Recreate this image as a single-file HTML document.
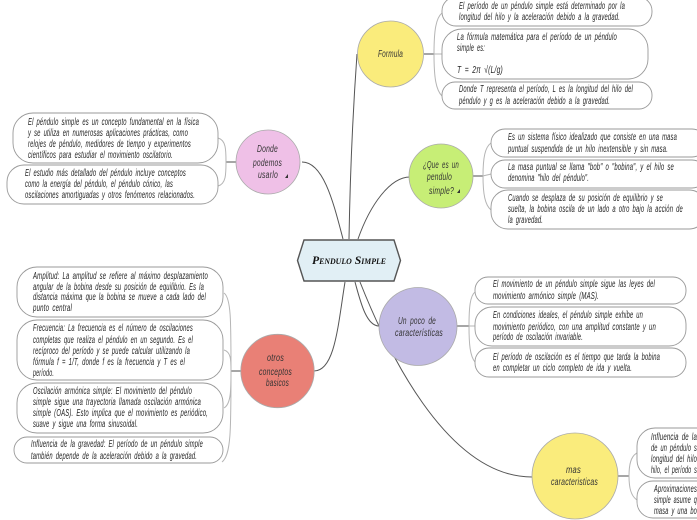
<!DOCTYPE html>
<html><head><meta charset="utf-8"><style>
html,body{margin:0;padding:0;background:#fff}
svg{display:block}
text{font-family:"Liberation Sans",sans-serif;font-style:italic;font-size:10px;fill:#222;word-spacing:2px;letter-spacing:.3px}
.c{font-size:10px;fill:#333}
.b{fill:#fff;stroke:#999;stroke-width:.9}
.l{fill:none;stroke:#555;stroke-width:1}
.g{fill:none;stroke:#b5b5b5;stroke-width:1}
.s{fill:none;stroke:#777;stroke-width:1.3}
.o{stroke:#aaa;stroke-width:.8}
</style></head><body>
<svg width="697" height="520" viewBox="0 0 697 520" xmlns="http://www.w3.org/2000/svg">
<!-- main connectors -->
<path class="l" d="M343 239C334 205 324 162 302 162"/>
<path class="l" d="M349 239C350 180 353 110 357 54"/>
<path class="l" d="M358 239C370 205 390 177 410 177"/>
<path class="l" d="M345 282C338 325 335 371 314 371"/>
<path class="l" d="M355 282C360 300 366 326 379 326"/>
<path class="l" d="M360 282C385 345 445 477 532 477"/>
<!-- brackets -->
<path class="s" d="M237 162H226"/>
<path class="g" d="M218 138C226 140 226 150 226 162C226 174 226 184 218 186"/>
<path class="s" d="M241 371H231"/>
<path class="g" d="M224 293C231 298 231 320 231 371C231 430 231 455 222 462M224 350C231 352 231 360 231 371C231 390 231 404 224 408"/>
<path class="s" d="M424 54H434"/>
<path class="g" d="M442 13C436 18 434 30 434 54C434 78 436 90 442 96M434 54H442"/>
<path class="s" d="M473 176H483"/>
<path class="g" d="M491 143C485 147 483 158 483 176C483 194 485 205 491 210M483 176C486 175 488 175 491 174"/>
<path class="s" d="M457 326H469"/>
<path class="g" d="M475 292C470 296 469 308 469 326C469 344 470 356 475 362M469 326H475"/>
<path class="s" d="M618 476H629"/>
<path class="g" d="M637 453C631 456 629 464 629 476C629 488 631 496 637 500"/>
<!-- boxes -->
<rect class="b" x="13" y="113" width="205" height="50" rx="20"/>
<rect class="b" x="7" y="165" width="211" height="39" rx="17"/>
<rect class="b" x="17" y="267" width="206" height="50" rx="20"/>
<rect class="b" x="17" y="320" width="206" height="60" rx="20"/>
<rect class="b" x="17" y="383" width="206" height="50" rx="20"/>
<rect class="b" x="14" y="437" width="209" height="26" rx="13"/>
<rect class="b" x="442" y="-3" width="210" height="29" rx="14"/>
<rect class="b" x="442" y="29" width="206" height="50" rx="20"/>
<rect class="b" x="442" y="82" width="210" height="27" rx="13"/>
<rect class="b" x="491" y="129" width="215" height="28" rx="14"/>
<rect class="b" x="491" y="160" width="215" height="28" rx="14"/>
<rect class="b" x="491" y="190" width="215" height="39" rx="17"/>
<rect class="b" x="475" y="277" width="211" height="27" rx="13"/>
<rect class="b" x="475" y="307" width="211" height="39" rx="17"/>
<rect class="b" x="475" y="348" width="211" height="29" rx="14"/>
<rect class="b" x="637" y="428" width="90" height="50" rx="18"/>
<rect class="b" x="637" y="481" width="90" height="37" rx="16"/>
<!-- circles -->
<circle class="o" cx="268" cy="162" r="32" fill="#efc0e7"/>
<circle class="o" cx="277.5" cy="371" r="36.7" fill="#e98076"/>
<circle class="o" cx="390.5" cy="54" r="33" fill="#faec7c"/>
<circle class="o" cx="441" cy="176" r="32" fill="#c7ee76"/>
<circle class="o" cx="418" cy="326.5" r="39" fill="#c2bbe4"/>
<circle class="o" cx="575" cy="476" r="43" fill="#faec7c"/>
<!-- central -->
<polygon points="304,240 394,240 400.5,260.5 394,281 304,281 297.5,260.5" fill="#e1eff5" stroke="#555" stroke-width="1.4"/>
<text x="312" y="264" textLength="74" lengthAdjust="spacingAndGlyphs" style="font-family:'Liberation Serif',serif;font-variant:small-caps;font-weight:bold;font-size:12px;fill:#111;letter-spacing:0;word-spacing:0">Pendulo Simple</text>
<!-- circle labels -->
<text class="c" x="257" y="152" textLength="21" lengthAdjust="spacingAndGlyphs">Donde</text>
<text class="c" x="253" y="166" textLength="29" lengthAdjust="spacingAndGlyphs">podemos</text>
<text class="c" x="258" y="178" textLength="20" lengthAdjust="spacingAndGlyphs">usarlo</text>
<polygon points="285,178 288,174 288,178" fill="#333"/>
<text class="c" x="267" y="361" textLength="17" lengthAdjust="spacingAndGlyphs">otros</text>
<text class="c" x="259" y="375" textLength="33" lengthAdjust="spacingAndGlyphs">conceptos</text>
<text class="c" x="266" y="386" textLength="23" lengthAdjust="spacingAndGlyphs">basicos</text>
<text class="c" x="378" y="57" textLength="25" lengthAdjust="spacingAndGlyphs">Formula</text>
<text class="c" x="423" y="168" textLength="36" lengthAdjust="spacingAndGlyphs">¿Que es un</text>
<text class="c" x="427" y="180" textLength="25" lengthAdjust="spacingAndGlyphs">pendulo</text>
<text class="c" x="429" y="194" textLength="25" lengthAdjust="spacingAndGlyphs">simple?</text>
<polygon points="457,193 460,189 460,193" fill="#333"/>
<text class="c" x="398" y="324" textLength="38" lengthAdjust="spacingAndGlyphs">Un poco de</text>
<text class="c" x="395" y="336" textLength="48" lengthAdjust="spacingAndGlyphs">características</text>
<text class="c" x="566" y="473" textLength="15" lengthAdjust="spacingAndGlyphs">mas</text>
<text class="c" x="551" y="485" textLength="47" lengthAdjust="spacingAndGlyphs">caracteristicas</text>
<!-- left -->
<text x="28" y="125" textLength="171" lengthAdjust="spacingAndGlyphs">El péndulo simple es un concepto fundamental en la física</text>
<text x="28" y="136" textLength="160" lengthAdjust="spacingAndGlyphs">y se utiliza en numerosas aplicaciones prácticas, como</text>
<text x="28" y="147" textLength="163" lengthAdjust="spacingAndGlyphs">relojes de péndulo, medidores de tiempo y experimentos</text>
<text x="28" y="158" textLength="145" lengthAdjust="spacingAndGlyphs">científicos para estudiar el movimiento oscilatorio.</text>
<text x="25" y="176" textLength="161" lengthAdjust="spacingAndGlyphs">El estudio más detallado del péndulo incluye conceptos</text>
<text x="25" y="187" textLength="148" lengthAdjust="spacingAndGlyphs">como la energía del péndulo, el péndulo cónico, las</text>
<text x="25" y="198" textLength="170" lengthAdjust="spacingAndGlyphs">oscilaciones amortiguadas y otros fenómenos relacionados.</text>
<text x="33" y="279" textLength="175" lengthAdjust="spacingAndGlyphs">Amplitud: La amplitud se refiere al máximo desplazamiento</text>
<text x="33" y="290" textLength="171" lengthAdjust="spacingAndGlyphs">angular de la bobina desde su posición de equilibrio. Es la</text>
<text x="33" y="300" textLength="173" lengthAdjust="spacingAndGlyphs">distancia máxima que la bobina se mueve a cada lado del</text>
<text x="33" y="311" textLength="39" lengthAdjust="spacingAndGlyphs">punto central</text>
<text x="33" y="331" textLength="160" lengthAdjust="spacingAndGlyphs">Frecuencia: La frecuencia es el número de oscilaciones</text>
<text x="33" y="343" textLength="160" lengthAdjust="spacingAndGlyphs">completas que realiza el péndulo en un segundo. Es el</text>
<text x="33" y="354" textLength="157" lengthAdjust="spacingAndGlyphs">recíproco del período y se puede calcular utilizando la</text>
<text x="33" y="365" textLength="152" lengthAdjust="spacingAndGlyphs">fórmula f = 1/T, donde f es la frecuencia y T es el</text>
<text x="33" y="376" textLength="21" lengthAdjust="spacingAndGlyphs">período.</text>
<text x="33" y="394" textLength="159" lengthAdjust="spacingAndGlyphs">Oscilación armónica simple: El movimiento del péndulo</text>
<text x="33" y="405" textLength="168" lengthAdjust="spacingAndGlyphs">simple sigue una trayectoria llamada oscilación armónica</text>
<text x="33" y="416" textLength="175" lengthAdjust="spacingAndGlyphs">simple (OAS). Esto implica que el movimiento es periódico,</text>
<text x="33" y="427" textLength="105" lengthAdjust="spacingAndGlyphs">suave y sigue una forma sinusoidal.</text>
<text x="31" y="447" textLength="172" lengthAdjust="spacingAndGlyphs">Influencia de la gravedad: El período de un péndulo simple</text>
<text x="31" y="459" textLength="166" lengthAdjust="spacingAndGlyphs">también depende de la aceleración debido a la gravedad.</text>
<!-- formula -->
<text x="459" y="9" textLength="166" lengthAdjust="spacingAndGlyphs">El período de un péndulo simple está determinado por la</text>
<text x="459" y="20" textLength="161" lengthAdjust="spacingAndGlyphs">longitud del hilo y la aceleración debido a la gravedad.</text>
<text x="457" y="40" textLength="160" lengthAdjust="spacingAndGlyphs">La fórmula matemática para el período de un péndulo</text>
<text x="457" y="51" textLength="28" lengthAdjust="spacingAndGlyphs">simple es:</text>
<text x="457" y="73" textLength="46" lengthAdjust="spacingAndGlyphs">T = 2π √(L/g)</text>
<text x="459" y="92" textLength="174" lengthAdjust="spacingAndGlyphs">Donde T representa el período, L es la longitud del hilo del</text>
<text x="459" y="104" textLength="151" lengthAdjust="spacingAndGlyphs">péndulo y g es la aceleración debido a la gravedad.</text>
<!-- que es -->
<text x="508" y="140" textLength="169" lengthAdjust="spacingAndGlyphs">Es un sistema físico idealizado que consiste en una masa</text>
<text x="508" y="152" textLength="160" lengthAdjust="spacingAndGlyphs">puntual suspendida de un hilo inextensible y sin masa.</text>
<text x="508" y="170" textLength="166" lengthAdjust="spacingAndGlyphs">La masa puntual se llama "bob" o "bobina", y el hilo se</text>
<text x="508" y="181" textLength="81" lengthAdjust="spacingAndGlyphs">denomina "hilo del péndulo".</text>
<text x="508" y="201" textLength="155" lengthAdjust="spacingAndGlyphs">Cuando se desplaza de su posición de equilibrio y se</text>
<text x="508" y="212" textLength="175" lengthAdjust="spacingAndGlyphs">suelta, la bobina oscila de un lado a otro bajo la acción de</text>
<text x="508" y="223" textLength="35" lengthAdjust="spacingAndGlyphs">la gravedad.</text>
<!-- un poco -->
<text x="493" y="287" textLength="162" lengthAdjust="spacingAndGlyphs">El movimiento de un péndulo simple sigue las leyes del</text>
<text x="493" y="299" textLength="106" lengthAdjust="spacingAndGlyphs">movimiento armónico simple (MAS).</text>
<text x="493" y="318" textLength="150" lengthAdjust="spacingAndGlyphs">En condiciones ideales, el péndulo simple exhibe un</text>
<text x="493" y="330" textLength="163" lengthAdjust="spacingAndGlyphs">movimiento periódico, con una amplitud constante y un</text>
<text x="493" y="340" textLength="90" lengthAdjust="spacingAndGlyphs">período de oscilación invariable.</text>
<text x="493" y="360" textLength="167" lengthAdjust="spacingAndGlyphs">El período de oscilación es el tiempo que tarda la bobina</text>
<text x="493" y="371" textLength="139" lengthAdjust="spacingAndGlyphs">en completar un ciclo completo de ida y vuelta.</text>
<!-- mas -->
<text x="651" y="440" textLength="46" lengthAdjust="spacingAndGlyphs">Influencia de la</text>
<text x="651" y="451" textLength="46" lengthAdjust="spacingAndGlyphs">de un péndulo s</text>
<text x="651" y="462" textLength="46" lengthAdjust="spacingAndGlyphs">longitud del hilo</text>
<text x="651" y="473" textLength="46" lengthAdjust="spacingAndGlyphs">hilo, el período s</text>
<text x="654" y="492" textLength="43" lengthAdjust="spacingAndGlyphs">Aproximaciones</text>
<text x="654" y="503" textLength="43" lengthAdjust="spacingAndGlyphs">simple asume q</text>
<text x="654" y="514" textLength="43" lengthAdjust="spacingAndGlyphs">masa y una bo</text>
</svg>
</body></html>
